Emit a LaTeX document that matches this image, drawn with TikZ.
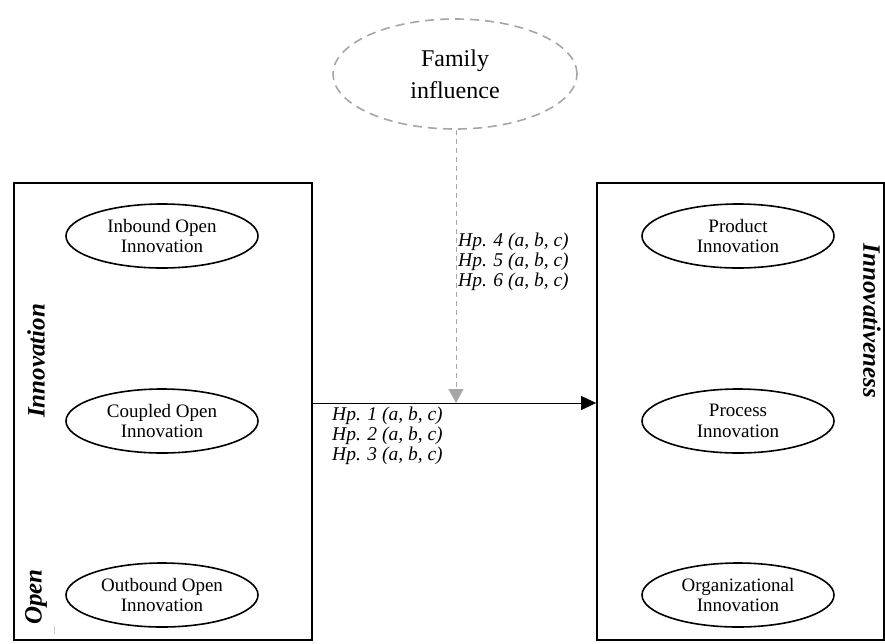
\documentclass[tikz,border=0pt]{standalone}
\usepackage{fontspec}
\setmainfont{Liberation Serif}
\usetikzlibrary{shapes.geometric,arrows.meta}

\begin{document}
\begin{tikzpicture}[x=1pt,y=-1pt]
\tikzstyle{every node}+=[inner sep=0pt]
\tikzstyle{frame}=[draw=black,line width=1.8pt,minimum width=298pt,minimum height=457pt]
\tikzstyle{construct}=[draw=black,ellipse,line width=1.6pt,minimum width=192pt,minimum height=64pt,align=center,font=\fontsize{19}{20.5}\selectfont]
\tikzstyle{hyp}=[anchor=west,align=left,font=\fontsize{19.5}{20}\selectfont\itshape]
\tikzstyle{side}=[font=\fontsize{25}{27}\selectfont\bfseries\itshape]
\useasboundingbox (0,0) rectangle (885,643);
% frames
\node [frame] (lbox) at (163,411.5) {};
\node [frame,minimum width=287pt] (rbox) at (740.5,411.5) {};
\draw [gray!40,line width=0.6pt] (54,626) -- (54,634);
% moderator
\node [draw=gray!70,dashed,dash pattern=on 9pt off 6pt,line width=1.6pt,ellipse,minimum width=244pt,minimum height=110pt,align=center,font=\fontsize{24}{32}\selectfont] (family) at (455,74) {Family\\influence};
% left constructs
\node [construct] (inbound) at (162,236) {Inbound Open\\Innovation};
\node [construct] (coupled) at (162,421) {Coupled Open\\Innovation};
\node [construct] (outbound) at (162,595) {Outbound Open\\Innovation};
\node [side,rotate=90] (innov) at (36,361) {Innovation};
\node [side,rotate=90] (open) at (36,597) {Open};
% right constructs
\node [construct] (product) at (738,236) {Product\\Innovation};
\node [construct] (process) at (738,421) {Process\\Innovation};
\node [construct] (organiz) at (738,595) {Organizational\\Innovation};
\node [side,rotate=-90] (innovness) at (872,321) {Innovativeness};
% paths
\coordinate (meet) at (456,403);
\draw [gray!70,dashed,dash pattern=on 5pt off 4pt,line width=0.8pt,-{Triangle[length=14pt,width=15pt,fill=gray!70]}] (family.south -| meet) -- (meet);
\draw [black,line width=1pt,-{Triangle[length=15pt,width=14pt]}] (lbox.east |- meet) -- (rbox.west |- meet);
\node [hyp] (hpup) at (458,262) {Hp. 4 (a, b, c)\\Hp. 5 (a, b, c)\\Hp. 6 (a, b, c)};
\node [hyp] (hpdown) at (332,436) {Hp. 1 (a, b, c)\\Hp. 2 (a, b, c)\\Hp. 3 (a, b, c)};
\end{tikzpicture}
\end{document}
